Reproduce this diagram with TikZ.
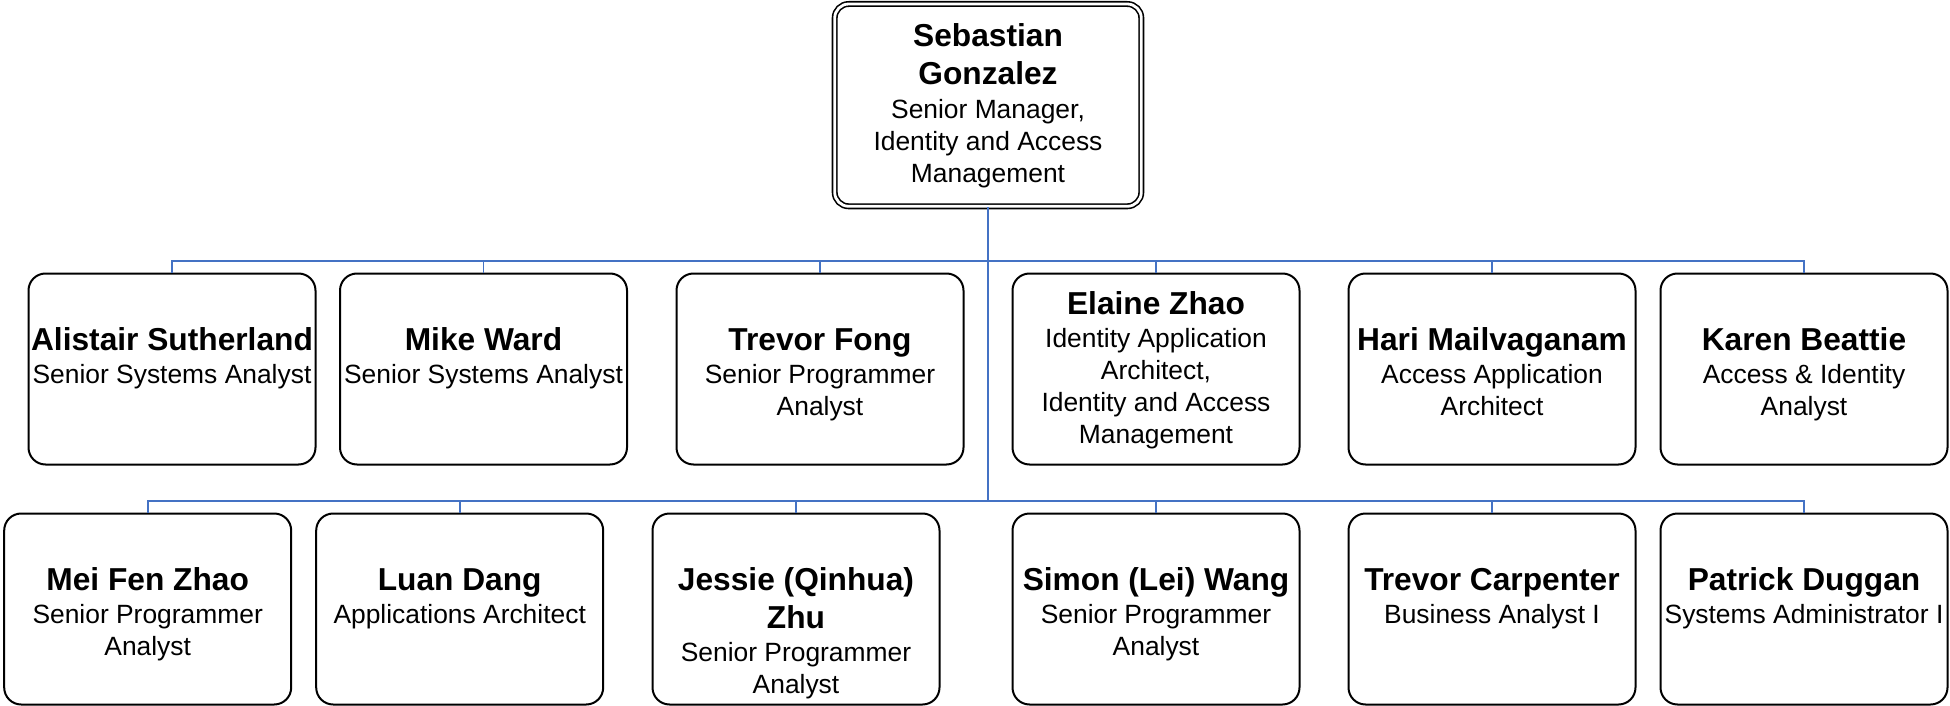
\documentclass[tikz,border=0pt]{standalone}
\usepackage{fontspec}
\setmainfont{Liberation Sans}
\usepackage{tikz}
\definecolor{OrgBlue}{HTML}{4472C4}
\tikzstyle{card} = [draw, line width=1pt, rounded corners=8.5pt, minimum width=143.5pt, inner sep=0pt, text height=38.25pt, text depth=57.25pt]
\tikzstyle{tallcard} = [card, text height=20.25pt, text depth=75.25pt]
\tikzstyle{head} = [draw, line width=0.8pt, double, double distance=1.4pt, rounded corners=7pt, minimum width=153.3pt, inner sep=0pt, text height=21.35pt, text depth=79.8pt]
\tikzstyle{link} = [draw=OrgBlue, line width=0.9pt]
\newcommand{\namefont}{\fontsize{15.85pt}{19pt}\selectfont\bfseries}
\newcommand{\rolefont}{\fontsize{13.2pt}{15.9pt}\selectfont\mdseries}
\newcommand{\person}[2]{\parbox[t]{143pt}{\centering\namefont #1\par\vspace{1pt}\rolefont #2\par}}

\begin{document}
\begin{tikzpicture}[x=0.5pt,y=-0.5pt]
	\useasboundingbox (0,0) rectangle (1950,706);
	% Manager
	\node[head] (sgonzalez) at (988,105.15)
		{\person{Sebastian\\Gonzalez}{Senior Manager,\\Identity and Access\\Management}};
	% First row
	\node[card] (asutherland) at (172,369)
		{\person{Alistair Sutherland}{Senior Systems Analyst}};
	\node[card] (mward) at (483.5,369)
		{\person{Mike Ward}{Senior Systems Analyst}};
	\node[card] (tfong) at (820,369)
		{\person{Trevor Fong}{Senior Programmer\\Analyst}};
	\node[tallcard] (ezhao) at (1156,369)
		{\person{Elaine Zhao}{Identity Application\\Architect,\\Identity and Access\\Management}};
	\node[card] (hmailvaganam) at (1492,369)
		{\person{Hari Mailvaganam}{Access Application\\Architect}};
	\node[card] (kbeattie) at (1804,369)
		{\person{Karen Beattie}{Access \& Identity\\Analyst}};
	% Second row
	\node[card] (mfzhao) at (147.7,609)
		{\person{Mei Fen Zhao}{Senior Programmer\\Analyst}};
	\node[card] (ldang) at (459.7,609)
		{\person{Luan Dang}{Applications Architect}};
	\node[card] (jzhu) at (796,609)
		{\person{Jessie (Qinhua)\\Zhu}{Senior Programmer\\Analyst}};
	\node[card] (swang) at (1156,609)
		{\person{Simon (Lei) Wang}{Senior Programmer\\Analyst}};
	\node[card] (tcarpenter) at (1492,609)
		{\person{Trevor Carpenter}{Business Analyst I}};
	\node[card] (pduggan) at (1804,609)
		{\person{Patrick Duggan}{Systems Administrator I}};
	% Connectors
	\coordinate (busone) at (988,261);
	\coordinate (bustwo) at (988,501);
	\draw[link] (sgonzalez.south) -- (bustwo);
	\draw[link] (asutherland.north) |- (busone) -| (kbeattie.north);
	\draw[link] (mfzhao.north) |- (bustwo) -| (pduggan.north);
	\foreach \n in {mward,tfong,ezhao,hmailvaganam}
		\draw[link] (\n.north) -- (\n.north |- busone);
	\foreach \n in {ldang,jzhu,swang,tcarpenter}
		\draw[link] (\n.north) -- (\n.north |- bustwo);
\end{tikzpicture}
\end{document}
